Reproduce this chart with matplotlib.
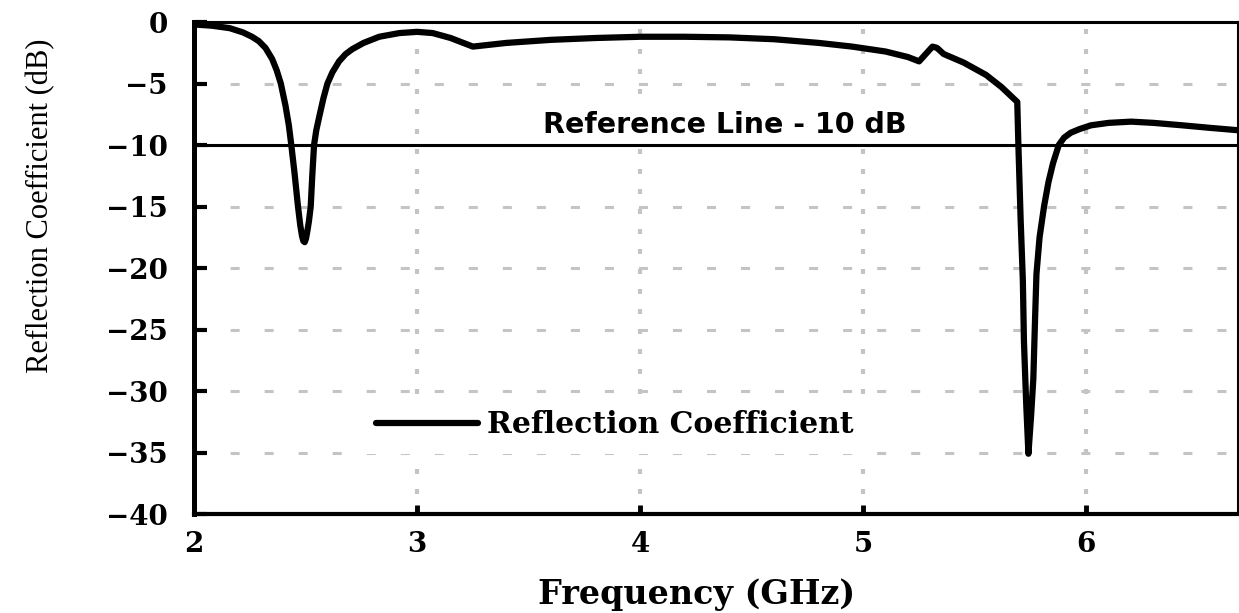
import numpy as np
import matplotlib.pyplot as plt

# Reflection coefficient (S11)
freq = [2.00, 2.08, 2.16, 2.22, 2.26, 2.29, 2.32, 2.35, 2.37, 2.389, 2.41, 2.425,
        2.436, 2.45, 2.466, 2.476, 2.484, 2.490, 2.496, 2.502, 2.508, 2.515, 2.523,
        2.530, 2.538, 2.548, 2.56, 2.58, 2.598, 2.62, 2.65, 2.68, 2.71, 2.76, 2.83,
        2.92, 3.00, 3.07, 3.15, 3.25, 3.40, 3.60, 3.80, 4.00, 4.20, 4.40, 4.60,
        4.80, 4.95, 5.10, 5.20, 5.25, 5.28, 5.31, 5.33, 5.36, 5.45, 5.55, 5.62,
        5.69, 5.695, 5.705, 5.715, 5.72, 5.73, 5.74, 5.752, 5.762, 5.770, 5.776,
        5.79, 5.81, 5.83, 5.85, 5.876, 5.90, 5.93, 5.97, 6.02, 6.10, 6.20, 6.30,
        6.43, 6.55, 6.68]
s11 = [-0.2, -0.3, -0.5, -0.85, -1.2, -1.55, -2.1, -3.0, -3.9, -5.0, -6.8, -8.4,
       -10.0, -12.2, -15.0, -16.5, -17.4, -17.8, -17.9, -17.6, -17.0, -16.2, -15.0,
       -12.5, -10.0, -8.8, -7.8, -6.2, -5.0, -4.1, -3.2, -2.6, -2.2, -1.7, -1.2,
       -0.9, -0.8, -0.9, -1.3, -2.0, -1.7, -1.45, -1.3, -1.2, -1.2, -1.25, -1.4,
       -1.7, -2.0, -2.4, -2.85, -3.2, -2.6, -2.0, -2.1, -2.6, -3.3, -4.3, -5.3,
       -6.5, -10.0, -16.0, -21.0, -26.0, -31.0, -35.1, -32.0, -29.0, -24.0,
       -20.5, -17.5, -15.0, -13.0, -11.5, -10.0, -9.4, -9.0, -8.7, -8.4, -8.2,
       -8.1, -8.2, -8.4, -8.6, -8.8]

ref_level = -10
x_ticks = [2, 3, 4, 5, 6]
y_ticks = [0, -5, -10, -15, -20, -25, -30, -35, -40]

plt.rcParams['font.family'] = 'DejaVu Serif'
plt.rcParams['font.weight'] = 'bold'
plt.rcParams['axes.labelweight'] = 'bold'
plt.rcParams['lines.scale_dashes'] = False

fig = plt.figure(figsize=(12.39, 6.13), dpi=100)
ax = fig.add_axes([0.1566, 0.1615, 0.8427, 0.8026])

ax.plot(freq, s11, color='black', linewidth=4.5, solid_joinstyle='round',
        solid_capstyle='round', label='Reflection Coefficient', zorder=3)
ax.axhline(ref_level, color='black', linewidth=2.2, zorder=2.6)
ax.text(4.38, -9.0, 'Reference Line - 10 dB', ha='center', va='baseline',
        family='DejaVu Sans', weight='bold', fontsize=20.5, zorder=2.5,
        bbox=dict(facecolor='white', edgecolor='none', pad=1))

ax.set_xlim(2, 6.68)
ax.set_ylim(-40, 0)
ax.set_xticks(x_ticks)
ax.set_yticks(y_ticks)

# grid: dashed horizontals, dotted verticals
ax.yaxis.grid(True, color='#c4c4c4', linewidth=2.2, linestyle=(23, (6.5, 18)))
ax.xaxis.grid(True, color='#c4c4c4', linewidth=3, linestyle=(0, (3.6, 10.8)))
ax.set_axisbelow(True)

ax.tick_params(axis='y', direction='in', length=9, width=3, pad=19, labelsize=20)
ax.tick_params(axis='x', direction='in', length=6.5, width=3.5, pad=12, labelsize=20)

ax.spines['left'].set_linewidth(3.6)
ax.spines['bottom'].set_linewidth(3)
ax.spines['top'].set_linewidth(2.2)
ax.spines['right'].set_linewidth(1.5)

ax.set_xlabel('Frequency (GHz)', fontsize=24, weight='bold')
ax.xaxis.set_label_coords(0.481, -0.13)
ax.set_ylabel('Reflection Coefficient (dB)', family='Liberation Serif',
              weight='normal', fontsize=22)
ax.yaxis.set_label_coords(-0.133, 0.626)

ax.legend(loc='center left', bbox_to_anchor=(0.16, 0.181), frameon=True,
          fancybox=False, framealpha=1, edgecolor='none', facecolor='white',
          handlelength=3.4, handletextpad=0.3, borderpad=0.5, borderaxespad=0,
          prop=dict(family='DejaVu Serif', weight='bold', size=21.5))

fig.savefig('out.png', dpi=100)
